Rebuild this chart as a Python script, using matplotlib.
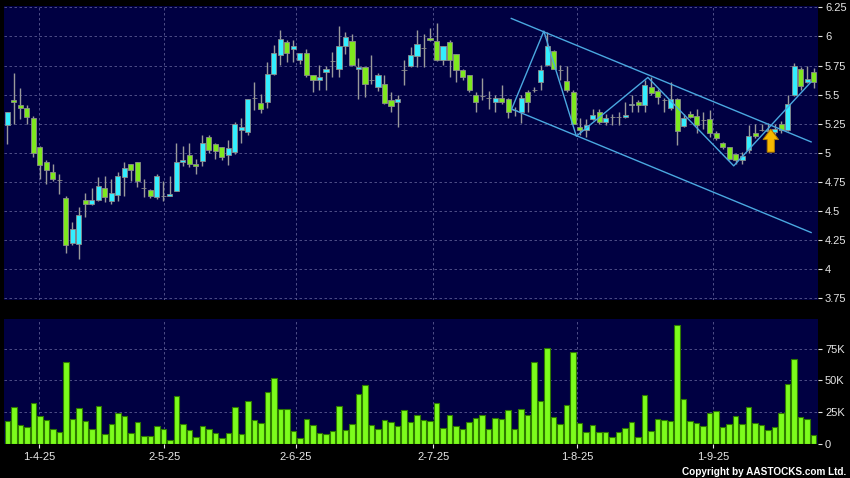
import matplotlib
matplotlib.use('Agg')
import matplotlib.pyplot as plt
import numpy as np

plt.rcParams['font.family'] = ['Liberation Sans', 'DejaVu Sans']

# daily OHLC, 25-3-25 .. mid 9-25
opens = [5.24, 5.45, 5.413, 5.387, 5.30, 5.049, 4.92, 4.834, 4.77, 4.613,
         4.224, 4.218, 4.596, 4.562, 4.596, 4.696, 4.585, 4.639, 4.791, 4.90,
         4.923, 4.696, 4.682, 4.619, 4.633, 4.63, 4.67, 4.923, 4.983, 4.905,
         4.928, 5.135, 5.072, 5.049, 4.983, 5.006, 5.198, 5.183, 5.47, 5.43,
         5.441, 5.679, 5.837, 5.951, 5.894, 5.794, 5.86, 5.665, 5.628, 5.693,
         5.785, 5.722, 5.914, 5.96, 5.722, 5.736, 5.622, 5.564, 5.593, 5.45,
         5.438, 5.716, 5.745, 5.831, 5.903, 5.99, 5.96, 5.794, 5.951, 5.851,
         5.713, 5.67, 5.499, 5.487, 5.473, 5.436, 5.47, 5.464, 5.37, 5.355,
         5.521, 5.542, 5.607, 5.751, 5.874, 5.716, 5.616, 5.521, 5.226, 5.192,
         5.287, 5.355, 5.264, 5.307, 5.307, 5.307, 5.413, 5.438, 5.413, 5.567,
         5.533, 5.455, 5.382, 5.459, 5.229, 5.33, 5.315, 5.28, 5.287, 5.167,
         5.081, 5.049, 4.989, 4.94, 5.023, 5.172, 5.195, 5.19, 5.178, 5.247,
         5.195, 5.496, 5.717, 5.608, 5.696]
highs = [5.355, 5.685, 5.56, 5.407, 5.32, 5.057, 4.94, 4.905, 4.82, 4.625,
         4.404, 4.533, 4.653, 4.70, 4.791, 4.797, 4.777, 4.834, 4.92, 4.905,
         4.923, 4.777, 4.69, 4.819, 4.762, 4.805, 5.083, 5.057, 5.086, 4.95,
         5.149, 5.149, 5.083, 5.05, 5.106, 5.264, 5.301, 5.464, 5.607, 5.507,
         5.779, 5.931, 6.052, 5.97, 5.966, 5.86, 5.894, 5.67, 5.756, 5.75,
         5.865, 6.086, 6.037, 6.023, 5.817, 5.74, 5.842, 5.69, 5.673, 5.521,
         5.493, 5.799, 5.908, 6.052, 6.023, 6.074, 6.115, 5.92, 5.966, 5.851,
         5.72, 5.67, 5.521, 5.645, 5.53, 5.493, 5.587, 5.47, 5.39, 5.493,
         5.542, 5.564, 5.751, 6.037, 5.885, 5.751, 5.742, 5.542, 5.301, 5.292,
         5.378, 5.378, 5.335, 5.335, 5.35, 5.436, 5.501, 5.45, 5.625, 5.653,
         5.55, 5.47, 5.61, 5.47, 5.33, 5.36, 5.378, 5.35, 5.364, 5.19,
         5.09, 5.054, 4.99, 5.006, 5.238, 5.249, 5.244, 5.26, 5.25, 5.27,
         5.496, 5.768, 5.74, 5.75, 5.725]
lows = [5.08, 5.25, 5.29, 5.25, 4.963, 4.777, 4.734, 4.762, 4.648, 4.138,
        4.21, 4.089, 4.447, 4.55, 4.59, 4.576, 4.562, 4.59, 4.625, 4.762,
        4.705, 4.619, 4.613, 4.605, 4.59, 4.628, 4.67, 4.891, 4.877, 4.82,
        4.885, 4.997, 4.948, 4.94, 4.897, 4.986, 5.083, 5.149, 5.364, 5.341,
        5.387, 5.67, 5.751, 5.779, 5.779, 5.765, 5.656, 5.521, 5.542, 5.536,
        5.65, 5.65, 5.851, 5.75, 5.464, 5.479, 5.593, 5.53, 5.42, 5.35,
        5.226, 5.579, 5.74, 5.736, 5.74, 5.96, 5.79, 5.751, 5.656, 5.607,
        5.622, 5.521, 5.35, 5.45, 5.378, 5.35, 5.421, 5.301, 5.32, 5.255,
        5.35, 5.52, 5.542, 5.75, 5.72, 5.622, 5.521, 5.244, 5.149, 5.135,
        5.28, 5.244, 5.235, 5.235, 5.24, 5.30, 5.35, 5.35, 5.352, 5.50,
        5.419, 5.352, 5.37, 5.066, 5.22, 5.30, 5.167, 5.207, 5.135, 5.11,
        5.03, 4.94, 4.905, 4.905, 5.0, 5.13, 5.19, 5.16, 5.165, 5.17,
        5.19, 5.49, 5.539, 5.60, 5.553]
closes = [5.355, 5.435, 5.387, 5.307, 5.00, 4.897, 4.854, 4.777, 4.77, 4.209,
          4.347, 4.467, 4.562, 4.596, 4.716, 4.619, 4.653, 4.797, 4.871, 4.854,
          4.759, 4.696, 4.625, 4.797, 4.633, 4.648, 4.923, 4.94, 4.905, 4.888,
          5.086, 5.026, 5.014, 4.968, 5.043, 5.244, 5.223, 5.464, 5.47, 5.378,
          5.679, 5.86, 5.98, 5.86, 5.917, 5.86, 5.67, 5.628, 5.65, 5.722,
          5.785, 5.917, 5.994, 5.756, 5.736, 5.593, 5.622, 5.673, 5.43, 5.401,
          5.464, 5.716, 5.837, 5.937, 5.903, 5.966, 5.799, 5.914, 5.799, 5.713,
          5.656, 5.536, 5.441, 5.487, 5.473, 5.47, 5.436, 5.355, 5.37, 5.47,
          5.441, 5.542, 5.713, 5.917, 5.722, 5.716, 5.542, 5.244, 5.192, 5.235,
          5.321, 5.264, 5.298, 5.307, 5.307, 5.327, 5.423, 5.413, 5.584, 5.51,
          5.476, 5.455, 5.459, 5.186, 5.301, 5.31, 5.238, 5.28, 5.167, 5.124,
          5.046, 4.948, 4.937, 4.977, 5.143, 5.143, 5.195, 5.20, 5.206, 5.195,
          5.416, 5.745, 5.573, 5.631, 5.610]
# volume in thousands
volumes = [18.2, 28.9, 14.5, 12.9, 31.8, 22.1, 18.7, 11.6, 8.9, 64.5,
           19.2, 28.4, 17.6, 11.6, 30.0, 7.6, 15.8, 24.2, 22.1, 8.2,
           16.8, 6.3, 6.3, 14.2, 11.6, 2.6, 37.9, 15.8, 10.5, 5.5,
           13.9, 11.3, 8.4, 4.7, 8.7, 28.7, 7.9, 33.4, 18.9, 16.1,
           41.1, 51.6, 27.6, 27.1, 9.7, 4.5, 19.2, 15.0, 8.4, 7.4,
           9.7, 29.7, 10.8, 15.3, 39.5, 46.1, 14.5, 11.1, 18.7, 17.4,
           14.2, 26.6, 17.4, 22.4, 18.7, 17.9, 32.4, 12.1, 22.4, 13.7,
           11.1, 17.4, 20.5, 22.9, 11.6, 20.5, 19.2, 26.3, 11.8, 27.4,
           22.4, 64.2, 33.7, 75.5, 21.1, 15.8, 30.5, 72.6, 16.6, 8.9,
           14.7, 8.9, 8.9, 5.3, 8.9, 12.1, 17.1, 5.3, 38.4, 9.7,
           19.7, 18.9, 18.2, 93.7, 35.3, 17.6, 16.6, 14.2, 24.2, 25.5,
           13.4, 15.8, 21.8, 15.3, 29.2, 16.6, 14.5, 10.3, 13.2, 24.2,
           47.1, 66.6, 21.3, 19.2, 7.1]

date_pos = [4.9, 24.15, 44.4, 65.5, 87.6, 108.5]
date_labels = ['1-4-25', '2-5-25', '2-6-25', '2-7-25', '1-8-25', '1-9-25']

# hand drawn lines on the chart (bar index, price)
zigzag_x = [77.6, 82.5, 87.5, 98.5, 111.7, 123.6]
zigzag_y = [5.382, 6.046, 5.143, 5.648, 4.888, 5.610]
upper_x = [77.5, 123.6]
upper_y = [6.155, 5.094]
lower_x = [77.6, 123.6]
lower_y = [5.376, 4.315]
arrow_x = 117.4
arrow_from, arrow_to = 5.006, 5.204

bg = '#000042'
grid_c = '#5a5a92'
txt_c = '#e6e6e6'

o = np.array(opens)
h = np.array(highs)
l = np.array(lows)
c = np.array(closes)
x = np.arange(len(o))

fig = plt.figure(figsize=(8.5, 4.78), dpi=100, facecolor='black')
ax = fig.add_axes([4/850, 1-300/478, 814/850, 294/478])
axv = fig.add_axes([4/850, 1-443.5/478, 814/850, 124.5/478], sharex=ax)

for a in (ax, axv):
    a.set_facecolor(bg)
    for s in a.spines.values():
        s.set_visible(False)
    a.grid(True, color=grid_c, linestyle=(0, (3, 3)), linewidth=0.6)
    a.set_axisbelow(True)
    a.yaxis.tick_right()
    a.tick_params(axis='y', colors=txt_c, labelsize=8, length=3, pad=2)

# candles
cols = np.where(c > o, '#33eeff', np.where(c < o, '#7ee81e', '#a8a8a8'))
ax.vlines(x, l, h, color='#9a9a9a', linewidth=1, zorder=2)
ax.bar(x, np.abs(c - o), bottom=np.minimum(o, c), width=0.78, color=cols,
       edgecolor='#8c8c8c', linewidth=0.6, zorder=3)

ax.plot(upper_x, upper_y, color='#4aa8e0', lw=1, zorder=4)
ax.plot(lower_x, lower_y, color='#4aa8e0', lw=1, zorder=4)
ax.plot(zigzag_x, zigzag_y, color='#4aa8e0', lw=1, zorder=4)
ax.arrow(arrow_x, arrow_from, 0, arrow_to - arrow_from, width=1.1, head_width=2.4,
         head_length=0.09, length_includes_head=True, fc='#f7b800', ec='#b07a00',
         lw=0.7, zorder=5)

ax.set_ylim(3.735, 6.262)
ax.set_yticks(np.arange(3.75, 6.26, 0.25))
ax.set_yticklabels([f'{v:g}' for v in np.arange(3.75, 6.26, 0.25)])
ax.set_xlim(-0.51, 124.66)
ax.tick_params(axis='x', length=0, labelbottom=False)

# volume
axv.bar(x, volumes, width=0.85, color='#7cfc1c', edgecolor='#2e7a00', linewidth=0.8, zorder=3)
axv.set_ylim(0, 98.6)
axv.set_yticks([0, 25, 50, 75])
axv.set_yticklabels(['0', '25K', '50K', '75K'])
axv.set_xticks(date_pos)
axv.set_xticklabels(date_labels)
axv.tick_params(axis='x', colors=txt_c, labelsize=8, length=3, pad=3)

fig.text(846/850, 1-472/478, 'Copyright by AASTOCKS.com Ltd.', ha='right', va='center',
         color='white', fontsize=7.2, fontweight='bold')

fig.savefig('out.png', dpi=100, facecolor='black')
